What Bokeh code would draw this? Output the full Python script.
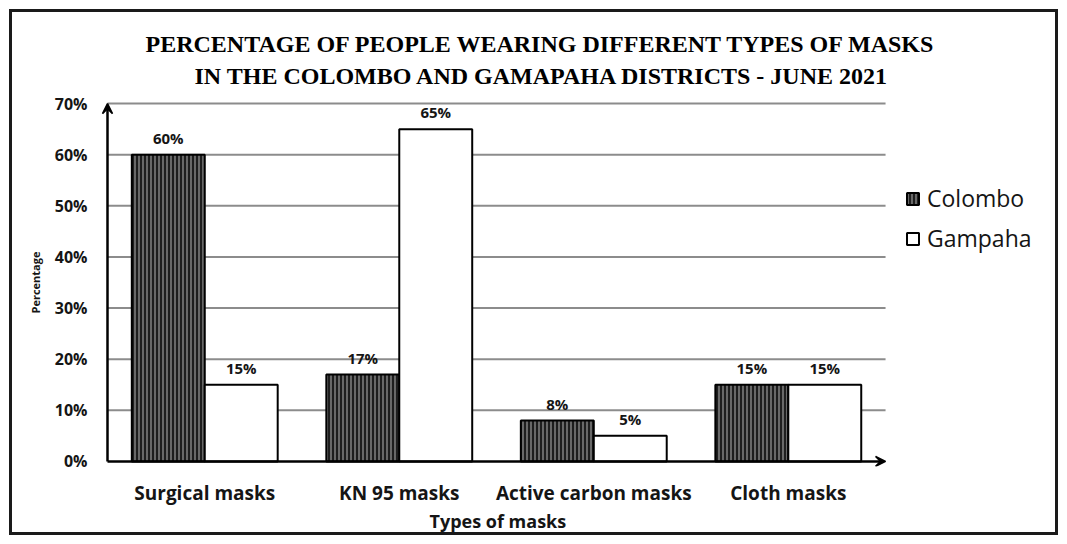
from bokeh.plotting import figure
from bokeh.models import (ColumnDataSource, Range1d, FixedTicker, PrintfTickFormatter,
                          Arrow, VeeHead, Legend, LegendItem, Title, LabelSet)
from bokeh.core.properties import value
from bokeh.transform import dodge
from bokeh.embed import file_html
from bokeh.resources import INLINE

categories = ["Surgical masks", "KN 95 masks", "Active carbon masks", "Cloth masks"]
colombo = [60, 17, 8, 15]
gampaha = [15, 65, 5, 15]
y_ticks = [0, 10, 20, 30, 40, 50, 60, 70]

n = len(categories)
y_top = y_ticks[-1]
xs = [i + 0.5 for i in range(n)]
src = ColumnDataSource(dict(
    x=xs, colombo=colombo, gampaha=gampaha,
    clab=[f"{v}%" for v in colombo], glab=[f"{v}%" for v in gampaha],
))
grid_src = ColumnDataSource(dict(y=y_ticks[1:], x0=[0] * (len(y_ticks) - 1),
                                 x1=[n] * (len(y_ticks) - 1)))

FONT = "Open Sans"
INK = "#151515"

p = figure(width=1067, height=544, output_backend="svg", toolbar_location=None,
           x_range=Range1d(-0.0514, 4.848), y_range=Range1d(-1, y_top + 1),
           min_border_left=97, min_border_right=17, min_border_top=98, min_border_bottom=78)
p.styles = {"outline": "3px solid #1a1a1a", "outline-offset": "-12px"}
p.outline_line_color = None
p.background_fill_color = None
p.border_fill_color = None
p.xgrid.grid_line_color = None
p.ygrid.grid_line_color = None

# grid lines that stop where the x axis arrow ends
p.segment(x0="x0", x1="x1", y0="y", y1="y", source=grid_src, line_color="#8c8c8c", line_width=2)

rc = p.vbar(x=dodge("x", -0.1875, range=p.x_range), top="colombo", width=0.375, source=src,
            fill_color="#1e1e1e", hatch_pattern="vertical_line", hatch_color="#9a9a9a",
            hatch_scale=4, hatch_weight=1.2, line_color="black", line_width=2)
rg = p.vbar(x=dodge("x", 0.1875, range=p.x_range), top="gampaha", width=0.375, source=src,
            fill_color="white", line_color="black", line_width=2)

for col, lab, off in (("colombo", "clab", -0.1875), ("gampaha", "glab", 0.1875)):
    p.add_layout(LabelSet(x=dodge("x", off, range=p.x_range), y=col, text=lab, source=src,
                          text_align="center", text_baseline="bottom", y_offset=7,
                          text_font=value(FONT), text_font_style="bold", text_font_size="15px",
                          text_color=INK))

# axes (lines drawn as arrows at the data origin)
p.xaxis.ticker = FixedTicker(ticks=xs)
p.xaxis.major_label_overrides = {x: c for x, c in zip(xs, categories)}
p.yaxis.ticker = FixedTicker(ticks=y_ticks)
p.yaxis.formatter = PrintfTickFormatter(format="%d%%")
for ax in (p.xaxis, p.yaxis):
    ax.major_tick_line_color = None
    ax.minor_tick_line_color = None
    ax.axis_line_color = None
    ax.major_label_text_font = FONT
    ax.major_label_text_font_style = "bold"
    ax.major_label_text_color = INK
    ax.axis_label_text_font = FONT
    ax.axis_label_text_font_style = "bold"
    ax.axis_label_text_color = INK
p.xaxis.major_label_text_font_size = "19px"
p.xaxis.major_label_standoff = 7
p.yaxis.major_label_text_font_size = "16px"
p.yaxis.major_label_standoff = 4
p.yaxis.axis_label = "Percentage"
p.yaxis.axis_label_text_font_size = "11px"
p.yaxis.axis_label_standoff = 9

head = dict(size=10, line_width=1.5, line_color="black", fill_color="black")
p.add_layout(Arrow(end=VeeHead(**head), x_start=0, y_start=0, x_end=0, y_end=y_top,
                   line_width=2.5, line_color="black"))
p.add_layout(Arrow(end=VeeHead(**head), x_start=0, y_start=0, x_end=n, y_end=0,
                   line_width=2.5, line_color="black"))

legend = Legend(items=[LegendItem(label="Colombo", renderers=[rc]),
                       LegendItem(label="Gampaha", renderers=[rg])],
                location=(808, 212), border_line_color=None, background_fill_alpha=0,
                label_text_font=FONT, label_text_font_size="23px", label_text_color=INK,
                glyph_width=15, glyph_height=15, spacing=8, label_standoff=7)
p.add_layout(legend, "center")

p.add_layout(Title(text="Types of masks", align="left", offset=332,
                   text_font=FONT, text_font_style="bold", text_font_size="18px",
                   text_color=INK, standoff=-4), "below")

p.add_layout(Title(text="IN THE COLOMBO AND GAMAPAHA DISTRICTS - JUNE 2021", align="left",
                   offset=97, text_color="black",
                   text_font="Liberation Serif", text_font_style="bold", text_font_size="24px",
                   standoff=19), "above")
p.add_layout(Title(text="PERCENTAGE OF PEOPLE WEARING DIFFERENT TYPES OF MASKS", align="left",
                   offset=48, text_color="black",
                   text_font="Liberation Serif", text_font_style="bold", text_font_size="24px",
                   standoff=-10), "above")

open("out.html", "w").write(file_html(p, INLINE))
